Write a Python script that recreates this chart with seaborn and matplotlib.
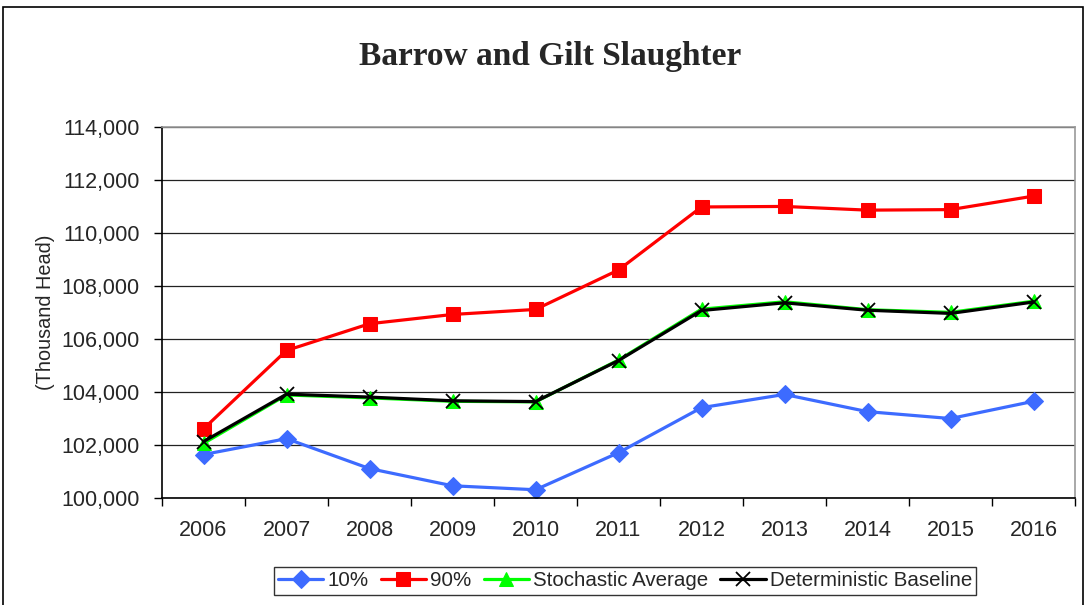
import matplotlib
matplotlib.use("Agg")
import matplotlib.pyplot as plt
import seaborn as sns
import pandas as pd
from matplotlib.patches import Rectangle
from matplotlib.ticker import FuncFormatter, MultipleLocator

years = [2006, 2007, 2008, 2009, 2010, 2011, 2012, 2013, 2014, 2015, 2016]
p10 = [101630, 102230, 101100, 100450, 100300, 101700, 103400, 103900, 103250, 102990, 103640]
p90 = [102600, 105560, 106570, 106920, 107110, 108600, 110980, 111000, 110860, 110880, 111390]
stoch_avg = [102050, 103880, 103770, 103640, 103620, 105200, 107120, 107400, 107100, 107000, 107420]
det_base = [102120, 103910, 103800, 103660, 103630, 105180, 107070, 107360, 107080, 106960, 107390]
series_names = ["10%", "90%", "Stochastic Average", "Deterministic Baseline"]

sns.set_theme(style="white")
plt.rcParams['font.family'] = ['Liberation Sans', 'DejaVu Sans']

fig = plt.figure(figsize=(10.86, 6.05), dpi=100)
ax = fig.add_axes([162/1086, 1-497.7/605, (1075-162)/1086, (497.7-127)/605])

styles = [
    dict(color="#3D6BFF", marker="D", markersize=9.5),
    dict(color="#FF0000", marker="s", markersize=10),
    dict(color="#00FF00", marker="^", markersize=10),
    dict(color="#000000", marker="x", markersize=9.5, markeredgewidth=1.3),
]
data_list = [p10, p90, stoch_avg, det_base]
for name, vals, st in zip(series_names, data_list, styles):
    df = pd.DataFrame({"year": years, "value": vals})
    kw = dict(st)
    c = kw.pop("color")
    sns.lineplot(data=df, x="year", y="value", ax=ax, color=c, linewidth=2.3,
                 label=name, markeredgecolor=c, **kw)

ax.set_xlim(2005.5, 2016.5)
ax.set_ylim(100000, 114000)
ax.yaxis.set_major_locator(MultipleLocator(2000))
ax.yaxis.set_major_formatter(FuncFormatter(lambda v, p: f"{int(v):,}"))
ax.set_xticks(years)
ax.set_xticklabels([str(y) for y in years])
ax.set_xticks([y - 0.5 for y in years] + [2016.5], minor=True)
ax.tick_params(axis="x", which="major", length=0, labelsize=15.5, pad=16)
ax.tick_params(axis="x", which="minor", length=6, width=1, color="black", direction="out", bottom=True)
ax.tick_params(axis="y", which="major", length=6, width=1, color="black", direction="out", left=True, labelsize=15.5, pad=10)
ax.grid(axis="y", color="#222222", linewidth=0.9)
ax.set_axisbelow(True)
ax.set_xlabel("")
ax.set_ylabel("(Thousand Head)", fontsize=14.3)
ax.yaxis.set_label_coords((55 - 162) / (1075 - 162), 0.5)
for s in ["top", "right"]:
    ax.spines[s].set_color("#999999")
    ax.spines[s].set_linewidth(1.2)
for s in ["left", "bottom"]:
    ax.spines[s].set_color("black")
    ax.spines[s].set_linewidth(1.2)

ax.legend_.remove()
handles, labels = ax.get_legend_handles_labels()
leg = fig.legend(handles, labels, loc="center", bbox_to_anchor=(625/1086, 1-581/605), ncol=4,
                 frameon=True, fontsize=14.8, handlelength=2.2, handletextpad=0.2, columnspacing=0.6,
                 borderpad=0.2, fancybox=False, edgecolor="black")
leg.get_frame().set_linewidth(1.0)

fig.text(550/1086, 1-56/605, "Barrow and Gilt Slaughter", ha="center", va="center",
         fontsize=24, fontweight="bold", family="Liberation Serif")

fig.patches.append(Rectangle((3/1086, -0.01), 1080/1086, 1 - 7/605 + 0.01, transform=fig.transFigure,
                             fill=False, edgecolor="black", linewidth=1.2))

fig.savefig("out.png", dpi=100)
